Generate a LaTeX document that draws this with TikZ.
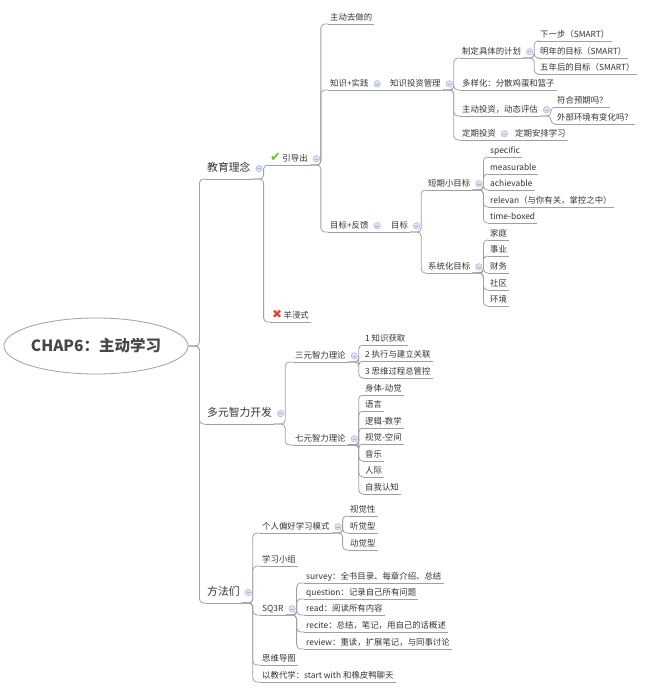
\documentclass[tikz,border=0pt]{standalone}
\usepackage{fontspec}
\setmainfont{Noto Sans CJK SC}
\newfontfamily\symfont{DejaVu Sans}
\usepackage{tikz}
\usetikzlibrary{shapes.geometric}
\usetikzlibrary{positioning}

\definecolor{ink}{HTML}{333333}
\definecolor{wire}{HTML}{A0A0A0}
\definecolor{foldfill}{HTML}{DCE4F1}
\definecolor{folddraw}{HTML}{A8B9D8}
\definecolor{okgreen}{HTML}{6CBF2E}
\definecolor{nored}{HTML}{E2472C}

\begin{document}
\begin{tikzpicture}[x=1pt, y=-1pt,
		link/.style={draw=wire, line width=0.8pt},
		branch/.style={rounded corners=4pt, to path={-- ++(11,0) |- (\tikztotarget)}},
		topic/.style={anchor=south west, inner xsep=2pt, inner ysep=1.5pt, text height=7pt, text depth=2pt, text=ink,
			font=\fontsize{8.4}{10}\selectfont,
			append after command={(\tikzlastnode.south west) edge[link] (\tikzlastnode.south east)}},
		main/.style={topic, inner ysep=4.5pt, text height=9pt, text depth=2.5pt, font=\fontsize{10.8}{13}\selectfont},
		fold/.style={circle, draw=folddraw, fill=foldfill, line width=0.5pt, minimum size=6.5pt, inner sep=0pt, right=3pt of #1,
			path picture={\draw[folddraw, line width=0.6pt] ([xshift=-1.7pt]path picture bounding box.center) -- ([xshift=1.7pt]path picture bounding box.center);}},
		hub/.style={ellipse, draw=wire, line width=0.8pt, fill=white, minimum width=172pt, minimum height=56pt, inner sep=0pt,
			text=ink!90, font=\fontsize{15.5}{18}\selectfont\bfseries}]
	\useasboundingbox (0,0) rectangle (650,693);

	\node[hub] (root) at (96,346) {CHAP6：主动学习};

	% first level
	\node[main] (jy) at (205,179) {教育理念};
	\node[main] (dy) at (205,424) {多元智力开发};
	\node[main] (ff) at (205,603) {方法们};

	% 教育理念
	\node[topic] (yd) at (268,165) {{\symfont\fontsize{13}{10}\selectfont\color{okgreen}✔}\,引导出};
	\node[topic] (ym) at (270,322) {{\symfont\fontsize{12}{10}\selectfont\color{nored}✖}\,羊浸式};
	\node[topic] (zd) at (328,24) {主动去做的};
	\node[topic] (zs) at (328,90) {知识+实践};
	\node[topic] (mf) at (328,232) {目标+反馈};
	\node[topic] (zg) at (388,90) {知识投资管理};
	\node[topic] (mb) at (389,232) {目标};

	\node[topic] (jh) at (460,58) {制定具体的计划};
	\node[topic] (dh) at (460,90) {多样化：分散鸡蛋和篮子};
	\node[topic] (zt) at (460,116) {主动投资，动态评估};
	\node[topic] (dq) at (460,140) {定期投资};
	\node[topic] (dp) at (513,140) {定期安排学习};
	\node[topic] (jh1) at (538,41) {下一步（SMART）};
	\node[topic] (jh2) at (538,58) {明年的目标（SMART）};
	\node[topic] (jh3) at (538,74) {五年后的目标（SMART）};
	\node[topic] (zt1) at (555,107) {符合预期吗？};
	\node[topic] (zt2) at (555,124) {外部环境有变化吗？};

	\node[topic] (dm) at (426,190) {短期小目标};
	\node[topic] (xm) at (426,273) {系统化目标};
	\node[topic] (dm1) at (488,157) {specific};
	\node[topic] (dm2) at (488,174) {measurable};
	\node[topic] (dm3) at (488,190) {achievable};
	\node[topic] (dm4) at (488,207) {relevan（与你有关，掌控之中）};
	\node[topic] (dm5) at (488,223) {time-boxed};
	\node[topic] (xm1) at (488,240) {家庭};
	\node[topic] (xm2) at (488,256) {事业};
	\node[topic] (xm3) at (488,273) {财务};
	\node[topic] (xm4) at (488,290) {社区};
	\node[topic] (xm5) at (488,306) {环境};

	% 多元智力开发
	\node[topic] (sy) at (293,362) {三元智力理论};
	\node[topic] (qy) at (293,445) {七元智力理论};
	\node[topic] (sy1) at (363,345) {1 知识获取};
	\node[topic] (sy2) at (363,361) {2 执行与建立关联};
	\node[topic] (sy3) at (363,378) {3 思维过程总管控};
	\node[topic] (qy1) at (363,395) {身体-动觉};
	\node[topic] (qy2) at (363,411) {语言};
	\node[topic] (qy3) at (363,428) {逻辑-数学};
	\node[topic] (qy4) at (363,444) {视觉-空间};
	\node[topic] (qy5) at (363,461) {音乐};
	\node[topic] (qy6) at (363,477) {人际};
	\node[topic] (qy7) at (363,494) {自我认知};

	% 方法们
	\node[topic] (gr) at (260,533) {个人偏好学习模式};
	\node[topic] (xx) at (260,566) {学习小组};
	\node[topic] (sq) at (260,615) {SQ3R};
	\node[topic] (sw) at (260,665) {思维导图};
	\node[topic] (yj) at (260,682) {以教代学：start with 和橡皮鸭聊天};
	\node[topic] (gr1) at (348,516) {视觉性};
	\node[topic] (gr2) at (348,533) {听觉型};
	\node[topic] (gr3) at (348,550) {动觉型};
	\node[topic] (sq1) at (304,583) {survey：全书目录、每章介绍、总结};
	\node[topic] (sq2) at (304,599) {question：记录自己所有问题};
	\node[topic] (sq3) at (304,615) {read：阅读所有内容};
	\node[topic] (sq4) at (304,632) {recite：总结，笔记，用自己的话概述};
	\node[topic] (sq5) at (304,649) {review：重读，扩展笔记，与同事讨论};

	\path[link]
		(root.east) edge[branch] (jy.south west)
		(root.east) edge[branch] (dy.south west)
		(root.east) edge[branch] (ff.south west)
		(jy.south east) edge[branch] (yd.south west)
		(jy.south east) edge[branch] (ym.south west)
		(yd.south east) edge[branch] (zd.south west)
		(yd.south east) edge[branch] (zs.south west)
		(yd.south east) edge[branch] (mf.south west)
		(zs.south east) edge (zg.south west)
		(mf.south east) edge (mb.south west)
		(zg.south east) edge[branch] (jh.south west)
		(zg.south east) edge[branch] (dh.south west)
		(zg.south east) edge[branch] (zt.south west)
		(zg.south east) edge[branch] (dq.south west)
		(dq.south east) edge (dp.south west)
		(jh.south east) edge[branch] (jh1.south west)
		(jh.south east) edge[branch] (jh2.south west)
		(jh.south east) edge[branch] (jh3.south west)
		(zt.south east) edge[branch] (zt1.south west)
		(zt.south east) edge[branch] (zt2.south west)
		(mb.south east) edge[branch] (dm.south west)
		(mb.south east) edge[branch] (xm.south west)
		(dm.south east) edge[branch] (dm1.south west)
		(dm.south east) edge[branch] (dm2.south west)
		(dm.south east) edge[branch] (dm3.south west)
		(dm.south east) edge[branch] (dm4.south west)
		(dm.south east) edge[branch] (dm5.south west)
		(xm.south east) edge[branch] (xm1.south west)
		(xm.south east) edge[branch] (xm2.south west)
		(xm.south east) edge[branch] (xm3.south west)
		(xm.south east) edge[branch] (xm4.south west)
		(xm.south east) edge[branch] (xm5.south west)
		(dy.south east) edge[branch] (sy.south west)
		(dy.south east) edge[branch] (qy.south west)
		(sy.south east) edge[branch] (sy1.south west)
		(sy.south east) edge[branch] (sy2.south west)
		(sy.south east) edge[branch] (sy3.south west)
		(qy.south east) edge[branch] (qy1.south west)
		(qy.south east) edge[branch] (qy2.south west)
		(qy.south east) edge[branch] (qy3.south west)
		(qy.south east) edge[branch] (qy4.south west)
		(qy.south east) edge[branch] (qy5.south west)
		(qy.south east) edge[branch] (qy6.south west)
		(qy.south east) edge[branch] (qy7.south west)
		(ff.south east) edge[branch] (gr.south west)
		(ff.south east) edge[branch] (xx.south west)
		(ff.south east) edge[branch] (sq.south west)
		(ff.south east) edge[branch] (sw.south west)
		(ff.south east) edge[branch] (yj.south west)
		(gr.south east) edge[branch] (gr1.south west)
		(gr.south east) edge[branch] (gr2.south west)
		(gr.south east) edge[branch] (gr3.south west)
		(sq.south east) edge[branch] (sq1.south west)
		(sq.south east) edge[branch] (sq2.south west)
		(sq.south east) edge[branch] (sq3.south west)
		(sq.south east) edge[branch] (sq4.south west)
		(sq.south east) edge[branch] (sq5.south west);

	% collapse markers
	\node[fold=jy] (jy-f) {};
	\node[fold=dy] (dy-f) {};
	\node[fold=ff] (ff-f) {};
	\node[fold=yd] (yd-f) {};
	\node[fold=zs] (zs-f) {};
	\node[fold=mf] (mf-f) {};
	\node[fold=zg] (zg-f) {};
	\node[fold=mb] (mb-f) {};
	\node[fold=jh] (jh-f) {};
	\node[fold=zt] (zt-f) {};
	\node[fold=dq] (dq-f) {};
	\node[fold=dm] (dm-f) {};
	\node[fold=xm] (xm-f) {};
	\node[fold=sy] (sy-f) {};
	\node[fold=qy] (qy-f) {};
	\node[fold=gr] (gr-f) {};
	\node[fold=sq] (sq-f) {};
\end{tikzpicture}
\end{document}
